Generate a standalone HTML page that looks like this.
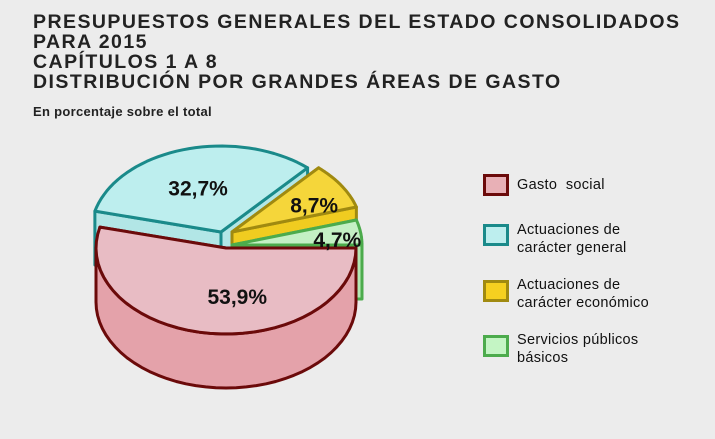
<!DOCTYPE html>
<html><head><meta charset="utf-8"><style>
body{margin:0;width:715px;height:439px;background:#ececec;font-family:"Liberation Sans",sans-serif;overflow:hidden;position:relative}
.t{position:absolute;left:33px;font-weight:bold;font-size:19.5px;color:#222;line-height:20px;letter-spacing:1.45px}
.sub{position:absolute;left:33px;top:104px;font-size:13px;font-weight:bold;color:#222;letter-spacing:0.3px}
.lg{position:absolute;left:483px;width:26px;height:22px;border:3px solid;box-sizing:border-box}
.lt{position:absolute;left:517px;font-size:14.5px;color:#111;line-height:18px;letter-spacing:0.3px}
</style></head><body>
<div class="t" style="top:12px">PRESUPUESTOS GENERALES DEL ESTADO CONSOLIDADOS<br>PARA 2015<br>CAPÍTULOS 1 A 8<br>DISTRIBUCIÓN POR GRANDES ÁREAS DE GASTO</div>
<div class="sub">En porcentaje sobre el total</div>
<svg id="pie" width="715" height="439" style="position:absolute;left:0;top:0"></svg>
<div class="lg" style="top:174px;background:#e8b0b6;border-color:#6b0a0a"></div>
<div class="lt" style="top:176px">Gasto&nbsp; social</div>
<div class="lg" style="top:224px;background:#bdeeee;border-color:#1a8a8a"></div>
<div class="lt" style="top:221px">Actuaciones de<br>carácter general</div>
<div class="lg" style="top:280px;background:#f5d020;border-color:#a08a10"></div>
<div class="lt" style="top:276px">Actuaciones de<br>carácter económico</div>
<div class="lg" style="top:335px;background:#c4f5c4;border-color:#4cab4c"></div>
<div class="lt" style="top:331px">Servicios públicos<br>básicos</div>
<script>
const categories=["Gasto social","Actuaciones de carácter general","Actuaciones de carácter económico","Servicios públicos básicos"];
const values=[53.9,32.7,8.7,4.7];
const valueLabels=["53,9%","32,7%","8,7%","4,7%"];
const svg=document.getElementById('pie');
const NS="http://www.w3.org/2000/svg";
const cx=226,cy=248,rx=130,ry=86,depth=54;
const offs=[[0,0],[-5,-16],[6,-16],[6,-3]];
const tops=["#e8bcc4","#bdeeee","#f5d63a","#c4f0c4"];
const sides=["#e4a2aa","#b2e6e6","#f0cc20","#b4e8b4"];
const strokes=["#6b0a0a","#1a8a8a","#a08a10","#4cab4c"];
const total=values.reduce((a,b)=>a+b,0);
function pt(c,a,dz){const r=a*Math.PI/180;return [c[0]+rx*Math.cos(r),c[1]+ry*Math.sin(r)+(dz||0)];}
function arcPath(c,a0,a1,dz){let d="";const n=40;for(let i=0;i<=n;i++){const p=pt(c,a0+(a1-a0)*i/n,dz);d+=(i?"L":"")+p[0].toFixed(1)+","+p[1].toFixed(1);}return d;}
function add(d,fill,stroke,name){const p=document.createElementNS(NS,'path');p.setAttribute('d',d);p.setAttribute('fill',fill);p.setAttribute('stroke',stroke);p.setAttribute('stroke-width','3');p.setAttribute('stroke-linejoin','round');


svg.appendChild(p);return p;}
const sl=[];let acc=0;
values.forEach((v,i)=>{const a0=acc/total*360;acc+=v;sl.push([a0,acc/total*360]);});
const order=[1,2,3,0];
order.forEach(i=>{
  const [a0,a1]=sl[i];const c=[cx+offs[i][0],cy+offs[i][1]];
  [a0,a1].forEach(a=>{const p=pt(c,a);
    add("M"+c[0]+","+c[1]+"L"+p[0]+","+p[1]+"L"+p[0]+","+(p[1]+depth)+"L"+c[0]+","+(c[1]+depth)+"Z",sides[i],strokes[i],'slice-cut-face');});
  const s0=Math.max(a0,0),s1=Math.min(a1,180);
  if(s1>s0){add("M"+arcPath(c,s0,s1,0)+"L"+arcPath(c,s1,s0,depth)+"Z",sides[i],strokes[i],'slice-side');}
  add("M"+c[0]+","+c[1]+"L"+arcPath(c,a0,a1,0)+"Z",tops[i],strokes[i],'slice-top-'+i);
});
const lpos=[[20,0.55],[0,0.6],[0,0.75],[-4,0.85]];
const ldy=[2,6,8,6];
sl.forEach(([a0,a1],i)=>{const c=[cx+offs[i][0],cy+offs[i][1]];const m=(a0+a1)/2;const f=lpos[i][1];
  const p=[c[0]+rx*f*Math.cos(m*Math.PI/180)+lpos[i][0],c[1]+ry*f*Math.sin(m*Math.PI/180)];
  const t=document.createElementNS(NS,'text');t.setAttribute('x',p[0]);t.setAttribute('y',p[1]+7+ldy[i]);t.setAttribute('text-anchor','middle');
  t.setAttribute('font-family','"Liberation Sans Narrow","Liberation Sans",sans-serif');t.setAttribute('font-weight','bold');t.setAttribute('font-size','21');t.setAttribute('fill','#111');
  t.textContent=valueLabels[i];
  
  
  svg.appendChild(t);});
</script>
</body></html>
